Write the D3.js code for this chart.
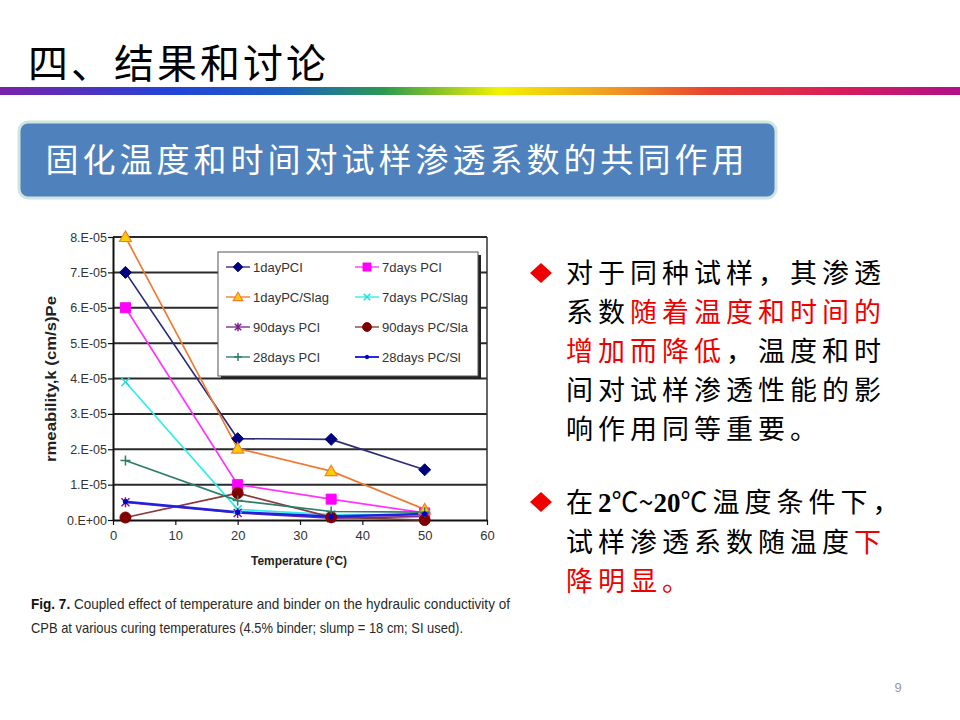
<!DOCTYPE html>
<html>
<head>
<meta charset="utf-8">
<script src="https://cdn.jsdelivr.net/npm/d3@7"></script>
<style>
  html, body { margin: 0; padding: 0; background: #fff; }
  svg { display: block; }
</style>
</head>
<body>
<svg id="page" width="960" height="720"></svg>
<script>
// ---------------- DATA ----------------
const temperatures = [2, 20, 35, 50];
const seriesNames = ["1dayPCI", "7days PCI", "1dayPC/Slag", "7days PC/Slag",
                     "90days PCI", "90days PC/Sla", "28days PCI", "28days PC/Sl"];
const day1PCI      = [7.0e-5, 2.3e-5, 2.28e-5, 1.42e-5];
const day7PCI      = [6.0e-5, 1.0e-5, 0.59e-5, 0.2e-5];
const day1PCSlag   = [8.0e-5, 2.02e-5, 1.38e-5, 0.3e-5];
const day7PCSlag   = [3.9e-5, 0.3e-5, 0.15e-5, 0.15e-5];
const day90PCI     = [0.5e-5, 0.2e-5, 0.05e-5, 0.1e-5];
const day90PCSla   = [0.07e-5, 0.76e-5, 0.08e-5, 0.0e-5];
const day28PCI     = [1.68e-5, 0.55e-5, 0.24e-5, 0.22e-5];
const day28PCSl    = [0.52e-5, 0.22e-5, 0.1e-5, 0.17e-5];
const xTicks = [0, 10, 20, 30, 40, 50, 60];
const yTicks = [0, 1e-5, 2e-5, 3e-5, 4e-5, 5e-5, 6e-5, 7e-5, 8e-5];
const yTickLabels = ["0.E+00", "1.E-05", "2.E-05", "3.E-05", "4.E-05", "5.E-05", "6.E-05", "7.E-05", "8.E-05"];
const xAxisTitle = "Temperature (°C)";
const yAxisTitle = "rmeability,k (cm/s)Pe";

const pageTitle = "四、结果和讨论";
const boxTitle = "固化温度和时间对试样渗透系数的共同作用";
const captionLine1 = "Coupled effect of temperature and binder on the hydraulic conductivity of";
const captionLine2 = "CPB at various curing temperatures (4.5% binder; slump = 18 cm; SI used).";

const allSeries = [day1PCI, day7PCI, day1PCSlag, day7PCSlag, day90PCI, day90PCSla, day28PCI, day28PCSl];

// styles per series (not data)
const styles = [
  {line: "#2b2b7a", width: 1.7, marker: "diamond", fill: "#000080", stroke: "#000080", r: 6},
  {line: "#ff33ff", width: 1.7, marker: "square",  fill: "#ff00ff", stroke: "#ff00ff", r: 5},
  {line: "#f07a35", width: 1.7, marker: "triangle",fill: "#ffcc00", stroke: "#f08030", r: 6},
  {line: "#33ecec", width: 1.7, marker: "x",       fill: "none",    stroke: "#22dddd", r: 4},
  {line: "#7a2a8a", width: 1.7, marker: "star",    fill: "none",    stroke: "#7a1f8a", r: 4},
  {line: "#8a3a3a", width: 1.7, marker: "circle",  fill: "#800000", stroke: "#800000", r: 5.5},
  {line: "#2e7d6d", width: 1.7, marker: "plus",    fill: "none",    stroke: "#2e7d6d", r: 5},
  {line: "#2020e0", width: 2.4, marker: "dot",     fill: "#0000cc", stroke: "#0000cc", r: 2.2}
];

const svg = d3.select("#page");
const defs = svg.append("defs");

// ---------------- HEADER ----------------
svg.append("text").attr("x", 28).attr("y", 78)
  .attr("font-family", "Noto Sans CJK SC").attr("font-size", 40)
  .attr("letter-spacing", 3).attr("fill", "#000").text(pageTitle);

const grad = defs.append("linearGradient").attr("id", "rainbow").attr("x1", "0%").attr("x2", "100%");
[["0%", "#7a22a8"], ["18%", "#2244d8"], ["30%", "#1e60c0"], ["40%", "#2a9a50"],
 ["52%", "#f2f200"], ["63%", "#f0a020"], ["74%", "#e84030"], ["88%", "#d81c5c"], ["100%", "#b0108a"]]
  .forEach(([o, c]) => grad.append("stop").attr("offset", o).attr("stop-color", c));
svg.append("rect").attr("x", 0).attr("y", 87).attr("width", 960).attr("height", 8).attr("fill", "url(#rainbow)");

// blue box
svg.append("rect").attr("x", 19).attr("y", 122).attr("width", 757).attr("height", 76)
  .attr("rx", 9).attr("fill", "#4f81bd").attr("stroke", "#cfe6e0").attr("stroke-width", 3);
svg.append("text").attr("x", 397).attr("y", 172).attr("text-anchor", "middle")
  .attr("font-family", "Noto Sans CJK SC").attr("font-size", 33).attr("letter-spacing", 4)
  .attr("fill", "#fff").text(boxTitle);

// ---------------- CHART ----------------
const x = d3.scaleLinear().domain([0, 60]).range([113, 487]);
const y = d3.scaleLinear().domain([0, 8e-5]).range([520, 237]);
const chartFont = "'Liberation Sans', Arial, sans-serif";

const chart = svg.append("g");
// gridlines
chart.append("g").selectAll("line").data(yTicks.slice(1)).join("line")
  .attr("x1", x(0)).attr("x2", x(60)).attr("y1", d => y(d)).attr("y2", d => y(d))
  .attr("stroke", "#2a2a2a").attr("stroke-width", 2);
// right border
chart.append("line").attr("x1", x(60)).attr("x2", x(60)).attr("y1", y(8e-5)).attr("y2", y(0))
  .attr("stroke", "#333").attr("stroke-width", 1.5);

const xAxis = d3.axisBottom(x).tickValues(xTicks).tickSize(5).tickSizeOuter(0);
const gx = chart.append("g").attr("transform", `translate(0,${y(0)})`).call(xAxis);
gx.select(".domain").attr("stroke", "#111").attr("stroke-width", 2);
gx.selectAll(".tick line").attr("stroke", "#111").attr("stroke-width", 1.2);
gx.selectAll(".tick text").attr("font-family", chartFont).attr("font-size", 13).attr("fill", "#333").attr("dy", "0.9em");

const yAxis = d3.axisLeft(y).tickValues(yTicks).tickFormat((d, i) => yTickLabels[i]).tickSize(5).tickSizeOuter(0);
const gy = chart.append("g").attr("transform", `translate(${x(0)},0)`).call(yAxis);
gy.select(".domain").attr("stroke", "#111").attr("stroke-width", 2);
gy.selectAll(".tick line").attr("stroke", "#111").attr("stroke-width", 1.2);
gy.selectAll(".tick text").attr("font-family", chartFont).attr("font-size", 12.5).attr("fill", "#333").attr("x", -6);

chart.append("text").attr("x", 299).attr("y", 565).attr("text-anchor", "middle")
  .attr("font-family", chartFont).attr("font-weight", "bold").attr("font-size", 13).attr("fill", "#222")
  .attr("textLength", 96).attr("lengthAdjust", "spacingAndGlyphs")
  .text(xAxisTitle);
chart.append("text").attr("transform", "translate(56,379) rotate(-90)").attr("text-anchor", "middle")
  .attr("font-family", chartFont).attr("font-weight", "bold").attr("font-size", 14).attr("fill", "#222")
  .attr("textLength", 166).attr("lengthAdjust", "spacingAndGlyphs")
  .text(yAxisTitle);

function drawMarker(g, st, cx, cy, scale) {
  const r = st.r * (scale || 1);
  const p = g.append("path").attr("transform", `translate(${cx},${cy})`);
  switch (st.marker) {
    case "diamond":
      p.attr("d", `M0,${-r}L${r},0L0,${r}L${-r},0Z`).attr("fill", st.fill).attr("stroke", st.stroke); break;
    case "square":
      p.attr("d", `M${-r},${-r}H${r}V${r}H${-r}Z`).attr("fill", st.fill).attr("stroke", st.stroke); break;
    case "triangle":
      p.attr("d", `M0,${-r}L${r},${r * 0.75}L${-r},${r * 0.75}Z`).attr("fill", st.fill).attr("stroke", st.stroke).attr("stroke-width", 1.2); break;
    case "circle":
    case "dot":
      p.attr("d", d3.arc()({innerRadius: 0, outerRadius: r, startAngle: 0, endAngle: 2 * Math.PI}))
        .attr("fill", st.fill).attr("stroke", st.stroke); break;
    case "x":
      p.attr("d", `M${-r},${-r}L${r},${r}M${-r},${r}L${r},${-r}`).attr("stroke", st.stroke).attr("stroke-width", 1.5).attr("fill", "none"); break;
    case "star":
      p.attr("d", `M${-r},${-r}L${r},${r}M${-r},${r}L${r},${-r}M0,${-r - 1}L0,${r + 1}`).attr("stroke", st.stroke).attr("stroke-width", 1.5).attr("fill", "none"); break;
    case "plus":
      p.attr("d", `M${-r},0L${r},0M0,${-r}L0,${r}`).attr("stroke", st.stroke).attr("stroke-width", 1.5).attr("fill", "none"); break;
  }
}

const line = d3.line().x((d, i) => x(temperatures[i])).y(d => y(d));
const seriesG = chart.append("g");
allSeries.forEach((vals, si) => {
  const st = styles[si];
  seriesG.append("path").attr("d", line(vals)).attr("fill", "none")
    .attr("stroke", st.line).attr("stroke-width", st.width);
});
allSeries.forEach((vals, si) => {
  const st = styles[si];
  vals.forEach((v, i) => drawMarker(seriesG, st, x(temperatures[i]), y(v)));
});

// legend
const lg = chart.append("g");
lg.append("rect").attr("x", 221).attr("y", 255).attr("width", 260).attr("height", 124).attr("fill", "#222");
lg.append("rect").attr("x", 218).attr("y", 252).attr("width", 260).attr("height", 124)
  .attr("fill", "#fff").attr("stroke", "#555").attr("stroke-width", 1);
seriesNames.forEach((name, i) => {
  const col = i % 2, row = Math.floor(i / 2);
  const lx = col === 0 ? 226 : 355;
  const ly = 267 + row * 30;
  const st = styles[i];
  lg.append("line").attr("x1", lx).attr("x2", lx + 24).attr("y1", ly).attr("y2", ly)
    .attr("stroke", st.line).attr("stroke-width", st.width * 0.8);
  drawMarker(lg, st, lx + 12, ly, 0.8);
  lg.append("text").attr("x", lx + 27).attr("y", ly).attr("dy", "0.35em")
    .attr("font-family", chartFont).attr("font-size", 13).attr("fill", "#333").text(name);
});

// caption
const cap = svg.append("g").attr("font-family", "'Liberation Sans', sans-serif").attr("fill", "#2a2a2a");
const c1 = cap.append("text").attr("x", 31).attr("y", 609).attr("font-size", 14.5)
  .attr("textLength", 479).attr("lengthAdjust", "spacingAndGlyphs");
c1.append("tspan").attr("font-weight", "bold").attr("fill", "#111").text("Fig. 7. ");
c1.append("tspan").text(captionLine1);
cap.append("text").attr("x", 31).attr("y", 633).attr("font-size", 14.5)
  .attr("textLength", 432).attr("lengthAdjust", "spacingAndGlyphs").text(captionLine2);

// ---------------- RIGHT TEXT ----------------
const tf = "Noto Sans CJK SC";
const rt = svg.append("g").attr("font-family", tf).attr("font-size", 27).attr("letter-spacing", 5);
function diamond(cx, cy) {
  svg.append("path").attr("d", `M${cx},${cy - 10}L${cx + 11},${cy}L${cx},${cy + 10}L${cx - 11},${cy}Z`).attr("fill", "#ee0000");
}
diamond(541, 273);
diamond(541, 502);
const lines1 = [
  [["对于同种试样，其渗透", "#000"]],
  [["系数", "#000"], ["随着温度和时间的", "#ee0000"]],
  [["增加而降低", "#ee0000"], ["，温度和时", "#000"]],
  [["间对试样渗透性能的影", "#000"]],
  [["响作用同等重要。", "#000"]]
];
lines1.forEach((parts, i) => {
  const t = rt.append("text").attr("x", 566).attr("y", 283 + i * 39);
  parts.forEach(([s, c]) => t.append("tspan").attr("fill", c).text(s));
});
const t6 = rt.append("text").attr("x", 566).attr("y", 512);
t6.append("tspan").attr("fill", "#000").text("在");
t6.append("tspan").attr("font-family", "'Liberation Serif', serif").attr("font-weight", "bold").attr("letter-spacing", 0).text("2");
t6.append("tspan").attr("fill", "#000").attr("letter-spacing", 0).text("℃~");
t6.append("tspan").attr("font-family", "'Liberation Serif', serif").attr("font-weight", "bold").attr("letter-spacing", 0).text("20");
t6.append("tspan").attr("fill", "#000").text("℃温度条件下，");
const t7 = rt.append("text").attr("x", 566).attr("y", 552);
t7.append("tspan").attr("fill", "#000").text("试样渗透系数随温度");
t7.append("tspan").attr("fill", "#ee0000").text("下");
rt.append("text").attr("x", 566).attr("y", 591).attr("fill", "#ee0000").text("降明显。");

// page number
svg.append("text").attr("x", 898).attr("y", 692).attr("text-anchor", "middle")
  .attr("font-family", "'Liberation Sans', sans-serif").attr("font-size", 13).attr("fill", "#999").text("9");
</script>
</body>
</html>
